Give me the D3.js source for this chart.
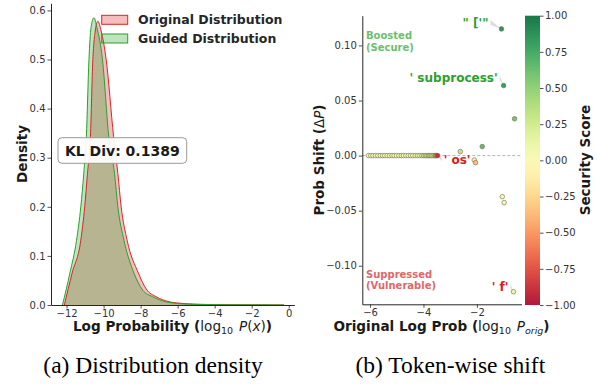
<!DOCTYPE html>
<html><head><meta charset="utf-8">
<script src="https://cdn.jsdelivr.net/npm/d3@7"></script>
<style>
body{margin:0;background:#fff;}
text{font-family:"DejaVu Sans",sans-serif;}
</style></head>
<body><svg id="c" width="597" height="385"></svg>
<script>
// ---- Data: (a) density curves ----
const guidedX = [-12.22,-11.82,-11.46,-11.23,-11.07,-10.93,-10.79,-10.68,-10.52,-10.36,-10.06,-9.72,-9.41,-9.23,-8.90,-8.36,-7.89,-7.36,-6.64,-5.80,-5.00,-4.00,-3.00,-2.00,-1.00,-0.25];
const guidedY = [0,0.065,0.132,0.200,0.268,0.343,0.500,0.565,0.585,0.565,0.500,0.343,0.268,0.200,0.132,0.065,0.0305,0.017,0.0067,0.0025,0.0012,0.0007,0.0004,0.0003,0.0002,0];
const originalX = [-12.12,-11.70,-11.23,-11.02,-10.87,-10.71,-10.58,-10.45,-10.31,-10.13,-9.86,-9.46,-9.23,-9.05,-8.73,-8.12,-7.66,-7.17,-6.46,-5.60,-4.80,-4.00,-3.00,-2.00,-1.00,-0.25];
const originalY = [0,0.065,0.132,0.200,0.268,0.343,0.500,0.558,0.578,0.558,0.500,0.343,0.268,0.200,0.132,0.065,0.0305,0.017,0.0067,0.0028,0.0014,0.0008,0.0005,0.0003,0.0002,0];
const seriesNames = ["Original Distribution","Guided Distribution"];
const klText = "KL Div: 0.1389";
const xTicksA = [-12,-10,-8,-6,-4,-2,0];
const yTicksA = [0,0.1,0.2,0.3,0.4,0.5,0.6];

// ---- Data: (b) token-wise shift ----
const zeroX = [-6.06,-5.97,-5.89,-5.80,-5.71,-5.62,-5.53,-5.45,-5.36,-5.27,-5.18,-5.10,-5.01,-4.92,-4.83,-4.75,-4.66,-4.57,-4.48,-4.40,-4.31,-4.22,-4.14,-4.06,-3.99,-3.93,-3.87,-3.82,-3.77,-3.72,-3.68,-3.63,-3.58,-3.55,-3.51];
const zeroY = zeroX.map(() => 0);
const zeroScore = [0.05,0.05,0.05,0.05,0.05,0.05,0.05,0.05,0.05,0.05,0.05,0.05,0.05,0.05,0.05,0.05,0.05,0.05,0.05,0.05,0.1,0.1,0.1,0.2,0.2,0.3,0.2,0.3,0.2,0.3,0.2,0.1,-0.3,-0.5,-0.6];
const tokX = [-1.08,-1.00,-0.59,-1.80,-2.62,-2.10,-2.05,-1.05,-0.98,-0.63,-3.47];
const tokY = [0.115,0.0636,0.0334,0.0082,0.0036,-0.004,-0.0064,-0.0373,-0.0427,-0.1236,0.0];
const tokScore = [0.85,0.8,0.6,0.65,0.3,0.05,-0.35,0.05,0.05,0.1,-0.9];
const tokLabels = ["\" ['\"", "' subprocess'", "' os'", "' f'"];
const tokLabelIdx = [0,1,10,9];
const xTicksB = [-6,-4,-2];
const yTicksB = [-0.10,-0.05,0.00,0.05,0.10];
const cbTicks = [-1,-0.75,-0.5,-0.25,0,0.25,0.5,0.75,1];
const captions = ["(a) Distribution density","(b) Token-wise shift"];

const svg = d3.select("#c");
const ink = "#262626";
function styleAxis(g){
  g.selectAll("path.domain").attr("stroke",ink).attr("stroke-width",1);
  g.selectAll(".tick line").attr("stroke",ink).attr("stroke-width",0.8);
  g.selectAll(".tick text").attr("fill","#333").style("font-size","10px").style("font-family","DejaVu Sans");
}

// ===== Panel (a) =====
const xA = d3.scaleLinear([-12.84,0.3],[51,294.3]);
const yA = d3.scaleLinear([0,0.6145],[305,3.3]);
const red = "#d62728", green = "#2ca02c";
const area = (X,Y) => d3.area().x((d,i)=>xA(X[i])).y0(yA(0)).y1((d,i)=>yA(Y[i])).curve(d3.curveMonotoneX)(X);
const line = (X,Y) => d3.line().x((d,i)=>xA(X[i])).y((d,i)=>yA(Y[i])).curve(d3.curveMonotoneX)(X);
svg.append("path").attr("d",area(originalX,originalY)).attr("fill",red).attr("fill-opacity",0.3);
svg.append("path").attr("d",area(guidedX,guidedY)).attr("fill",green).attr("fill-opacity",0.3);
svg.append("path").attr("d",line(originalX,originalY)).attr("fill","none").attr("stroke",red).attr("stroke-width",1);
svg.append("path").attr("d",line(guidedX,guidedY)).attr("fill","none").attr("stroke",green).attr("stroke-width",1);

svg.append("g").attr("transform","translate(0,305)")
  .call(d3.axisBottom(xA).tickValues(xTicksA).tickFormat(d3.format("d")).tickSize(3.5).tickSizeOuter(0).tickPadding(1.5))
  .call(styleAxis);
svg.append("g").attr("transform","translate(51,0)")
  .call(d3.axisLeft(yA).tickValues(yTicksA).tickFormat(d3.format(".1f")).tickSize(3.5).tickSizeOuter(0).tickPadding(2))
  .call(styleAxis);

// legend
[red,green].forEach((c,i)=>{
  const y = 15.3 + i*18.7;
  svg.append("rect").attr("x",101.7).attr("y",y).attr("width",26).attr("height",9)
    .attr("fill",c).attr("fill-opacity",0.3).attr("stroke",c).attr("stroke-width",1);
  svg.append("text").attr("x",138).attr("y",y+8.5).text(seriesNames[i])
    .style("font-size","12.5px").style("font-weight","bold").attr("fill","#262626");
});
// KL box
svg.append("rect").attr("x",58).attr("y",137.7).attr("width",128.7).attr("height",25.6).attr("rx",4)
  .attr("fill","#fff").attr("fill-opacity",0.92).attr("stroke","#999").attr("stroke-width",1);
svg.append("text").attr("x",122.3).attr("y",155.6).attr("text-anchor","middle").text(klText)
  .style("font-size","14px").style("font-weight","bold").attr("fill","#1a1a1a");

// axis labels (a)
const xlabA = svg.append("text").attr("x",172.5).attr("y",331).attr("text-anchor","middle")
  .style("font-size","13.6px").attr("fill","#1a1a1a");
xlabA.append("tspan").text("Log Probability (").style("font-weight","bold");
xlabA.append("tspan").text("log");
xlabA.append("tspan").text("10").attr("dy",3).style("font-size","9.5px");
xlabA.append("tspan").text(" P").attr("dx",1.5).attr("dy",-3).style("font-style","italic");
xlabA.append("tspan").text("(");
xlabA.append("tspan").text("x").style("font-style","italic");
xlabA.append("tspan").text(")");
xlabA.append("tspan").text(")").style("font-weight","bold");
svg.append("text").attr("transform","translate(26.5,154) rotate(-90)").attr("text-anchor","middle")
  .text("Density").style("font-size","13.5px").style("font-weight","bold").attr("fill","#1a1a1a");

// ===== Panel (b) =====
const xB = d3.scaleLinear([-6.29,-0.33],[362.3,521.5]);
const yB = d3.scaleLinear([-0.135,0.127],[304.3,15.7]);
const cmap = s => { const c = d3.rgb(d3.interpolateRdYlGn((s+1)/2));
  return d3.rgb(c.r*0.9+25.5, c.g*0.9+25.5, c.b*0.9+25.5).formatHex(); };

svg.append("line").attr("x1",xB(-6.29)).attr("x2",xB(-0.33)).attr("y1",yB(0)).attr("y2",yB(0))
  .attr("stroke","#aaa").attr("stroke-width",0.9).attr("stroke-dasharray","3,2");

// annotation text
svg.append("text").attr("x",366).attr("y",39).text("Boosted").style("font-size","10px").style("font-weight","bold").attr("fill","#6cbf6a");
svg.append("text").attr("x",366).attr("y",50.5).text("(Secure)").style("font-size","10px").style("font-weight","bold").attr("fill","#6cbf6a");
svg.append("text").attr("x",366).attr("y",277.5).text("Suppressed").style("font-size","10px").style("font-weight","bold").attr("fill","#e0676a");
svg.append("text").attr("x",366).attr("y",289.3).text("(Vulnerable)").style("font-size","10px").style("font-weight","bold").attr("fill","#e0676a");

// token label arrows and text
const labOff = [[-13,-5],[-6,-6.5],[6,5],[-5,-4]];
const labAnchor = ["end","end","start","end"];
const labColor = [green,green,"#d62020","#d62020"];
tokLabelIdx.forEach((ti,k)=>{
  const px = xB(tokX[ti]), py = yB(tokY[ti]);
  const lx = px + labOff[k][0], ly = py + labOff[k][1];
  const tx = labAnchor[k]==="end" ? lx+2 : lx-2;
  svg.append("path").attr("d",`M${tx},${ly-4}L${tx},${ly+1}L${px},${py}Z`).attr("fill","#cfcfcf").attr("fill-opacity",0.7);
  svg.append("text").attr("x",lx).attr("y",ly+3).attr("text-anchor",labAnchor[k]).text(tokLabels[k])
    .style("font-size","12px").style("font-weight","bold").attr("fill",labColor[k]);
});

// points
const allX = zeroX.concat(tokX), allY = zeroY.concat(tokY), allS = zeroScore.concat(tokScore);
svg.append("g").selectAll("circle").data(allX).join("circle")
  .attr("cx",(d,i)=>xB(allX[i])).attr("cy",(d,i)=>yB(allY[i])).attr("r",2.3)
  .attr("fill",(d,i)=>cmap(allS[i])).attr("stroke","#6b6b4a").attr("stroke-width",0.7).attr("stroke-opacity",0.85);

svg.append("g").attr("transform","translate(0,304.3)")
  .call(d3.axisBottom(xB).tickValues(xTicksB).tickFormat(d3.format("d")).tickSize(3.5).tickSizeOuter(0).tickPadding(1.5))
  .call(styleAxis);
svg.append("g").attr("transform","translate(362.3,0)")
  .call(d3.axisLeft(yB).tickValues(yTicksB).tickFormat(d3.format(".2f")).tickSize(3.5).tickSizeOuter(0).tickPadding(2))
  .call(styleAxis);

// colorbar
const cbY = d3.scaleLinear([-1,1],[305,15.7]);
const defs = svg.append("defs");
const grad = defs.append("linearGradient").attr("id","cbg").attr("x1",0).attr("x2",0).attr("y1",1).attr("y2",0);
d3.range(0,1.0001,0.05).forEach(t=>grad.append("stop").attr("offset",t).attr("stop-color",cmap(t*2-1)));
svg.append("rect").attr("x",525).attr("y",15.7).attr("width",15).attr("height",305-15.7).attr("fill","url(#cbg)");
svg.append("g").attr("transform","translate(540,0)")
  .call(d3.axisRight(cbY).tickValues(cbTicks).tickFormat(d3.format(".2f")).tickSize(3.5).tickSizeOuter(0).tickPadding(1.5))
  .call(styleAxis).call(g=>g.select("path.domain").remove());
svg.append("text").attr("transform","translate(589.5,160) rotate(-90)").attr("text-anchor","middle")
  .text("Security Score").style("font-size","13.5px").style("font-weight","bold").attr("fill","#1a1a1a");

// axis labels (b)
const xlabB = svg.append("text").attr("x",441.5).attr("y",331).attr("text-anchor","middle")
  .style("font-size","13.6px").attr("fill","#1a1a1a");
xlabB.append("tspan").text("Original Log Prob (").style("font-weight","bold");
xlabB.append("tspan").text("log");
xlabB.append("tspan").text("10").attr("dy",3).style("font-size","9.5px");
xlabB.append("tspan").text(" P").attr("dx",1.5).attr("dy",-3).style("font-style","italic");
xlabB.append("tspan").text("orig").attr("dy",3).style("font-size","9.5px").style("font-style","italic");
xlabB.append("tspan").text(")").attr("dy",-3).style("font-weight","bold");
const ylabB = svg.append("text").attr("transform","translate(323.5,160) rotate(-90)").attr("text-anchor","middle")
  .style("font-size","13.5px").attr("fill","#1a1a1a");
ylabB.append("tspan").text("Prob Shift (").style("font-weight","bold");
ylabB.append("tspan").text("Δ");
ylabB.append("tspan").text("P").style("font-style","italic");
ylabB.append("tspan").text(")").style("font-weight","bold");

// captions
[[153,captions[0]],[450.3,captions[1]]].forEach(([x,t])=>{
  svg.append("text").attr("x",x).attr("y",373.3).attr("text-anchor","middle").text(t)
    .style("font-family","'Liberation Serif','Times New Roman',serif").style("font-size","23.5px").attr("fill","#000");
});
</script></body></html>
